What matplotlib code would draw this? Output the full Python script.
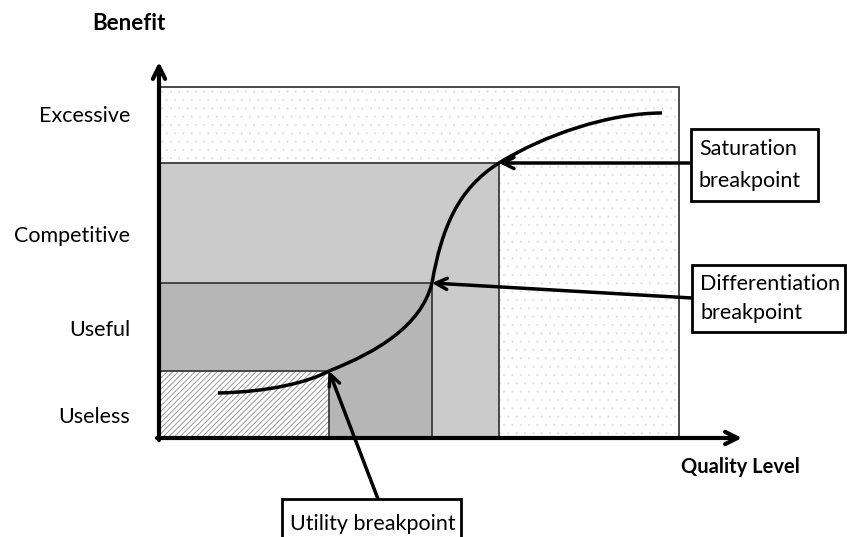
import matplotlib
matplotlib.use("Agg")
import matplotlib.pyplot as plt
from matplotlib.patches import Rectangle, PathPatch
from matplotlib.path import Path

# --- data (units: quality level / benefit, origin at the axes corner) ---
level_labels   = ["Useless", "Useful", "Competitive", "Excessive"]
benefit_bounds = [67, 155, 275, 351]          # top of each benefit band
quality_breaks = [170, 273, 340]              # utility, differentiation, saturation
quality_max    = 520
break_labels   = ["Utility breakpoint", "Differentiation\nbreakpoint", "Saturation\nbreakpoint"]

# benefit curve as cubic bezier segments (start, c1, c2, end, c1, c2, end ...)
curve_pts = [(59, 45),
             (110, 46), (150, 56), (170, 67),
             (218, 86), (262, 112), (273, 155),
             (283, 212), (300, 250), (340, 275),
             (385, 303), (450, 325), (503, 325)]

FONT = ["Lato", "DejaVu Sans"]
plt.rcParams['font.family'] = FONT
FS = 15.5

fig = plt.figure(figsize=(8.47, 5.37), dpi=100)
ax = fig.add_axes([0, 0, 1, 1])
ax.set_xlim(-159, 688)
ax.set_ylim(-99, 438)
ax.axis('off')

EDGE = '#3a3a3a'

# excessive band: white with faint dots
plt.rcParams['hatch.linewidth'] = 0.4
ax.add_patch(Rectangle((0, 0), quality_max, benefit_bounds[3], facecolor='white',
                       hatch='..', edgecolor='#e0e0e0', lw=0, zorder=1))
ax.add_patch(Rectangle((0, 0), quality_max, benefit_bounds[3], fill=False,
                       edgecolor=EDGE, lw=1.3, zorder=2))
# competitive
ax.add_patch(Rectangle((0, 0), quality_breaks[2], benefit_bounds[2], facecolor='#cbcbcb',
                       edgecolor=EDGE, lw=1.3, zorder=3))
# useful
ax.add_patch(Rectangle((0, 0), quality_breaks[1], benefit_bounds[1], facecolor='#b6b6b6',
                       edgecolor=EDGE, lw=1.3, zorder=4))
# useless: hatched
plt.rcParams['hatch.linewidth'] = 0.7
ax.add_patch(Rectangle((0, 0), quality_breaks[0], benefit_bounds[0], facecolor='white',
                       hatch='//////', edgecolor='#9a9a9a', lw=0, zorder=5))
ax.add_patch(Rectangle((0, 0), quality_breaks[0], benefit_bounds[0], fill=False,
                       edgecolor=EDGE, lw=1.3, zorder=6))

# curve
codes = [Path.MOVETO] + [Path.CURVE4] * (len(curve_pts) - 1)
ax.add_patch(PathPatch(Path(curve_pts, codes), facecolor='none', edgecolor='black',
                       lw=2.5, zorder=8))

# axes with arrows
ax.annotate('', xy=(0, 376), xytext=(0, -2),
            arrowprops=dict(arrowstyle='->', lw=3, color='black', mutation_scale=22,
                            shrinkA=0, shrinkB=0), zorder=9)
ax.annotate('', xy=(583, 0), xytext=(-2, 0),
            arrowprops=dict(arrowstyle='->', lw=3, color='black', mutation_scale=22,
                            shrinkA=0, shrinkB=0), zorder=9)

# level labels
label_y = [21, 108, 202, 322]
for lab, y in zip(level_labels, label_y):
    ax.text(-29, y, lab, ha='right', va='center', fontsize=FS, zorder=10)

ax.text(-30, 415, "Benefit", ha='center', va='center', fontsize=16, fontweight='bold')
ax.text(581, -29, "Quality Level", ha='center', va='center', fontsize=14.5, fontweight='bold')

# breakpoint boxes + arrows
boxes = [(123, -107, 179, 46), (533, 106, 153, 67), (532, 237, 127, 72)]
starts = [(219, -61), (533, 140), (532, 275)]
targets = [(quality_breaks[0], benefit_bounds[0]),
           (quality_breaks[1], benefit_bounds[1]),
           (quality_breaks[2], benefit_bounds[2])]
for (bx, by, bw, bh), lab, s, t in zip(boxes, break_labels, starts, targets):
    ax.add_patch(Rectangle((bx, by), bw, bh, facecolor='white', edgecolor='black',
                           lw=2, zorder=11, clip_on=False))
    ty = by + bh / 2 if '\n' in lab else by + bh - 25
    ls = 1.75 if bh > 70 else 1.6
    ax.text(bx + 8, ty, lab, ha='left', va='center', fontsize=FS, linespacing=ls,
            zorder=12)
    ax.annotate('', xy=t, xytext=s,
                arrowprops=dict(arrowstyle='->', lw=2.5, color='black', mutation_scale=20,
                                shrinkA=0, shrinkB=0), zorder=10)

fig.savefig("out.png", dpi=100)
